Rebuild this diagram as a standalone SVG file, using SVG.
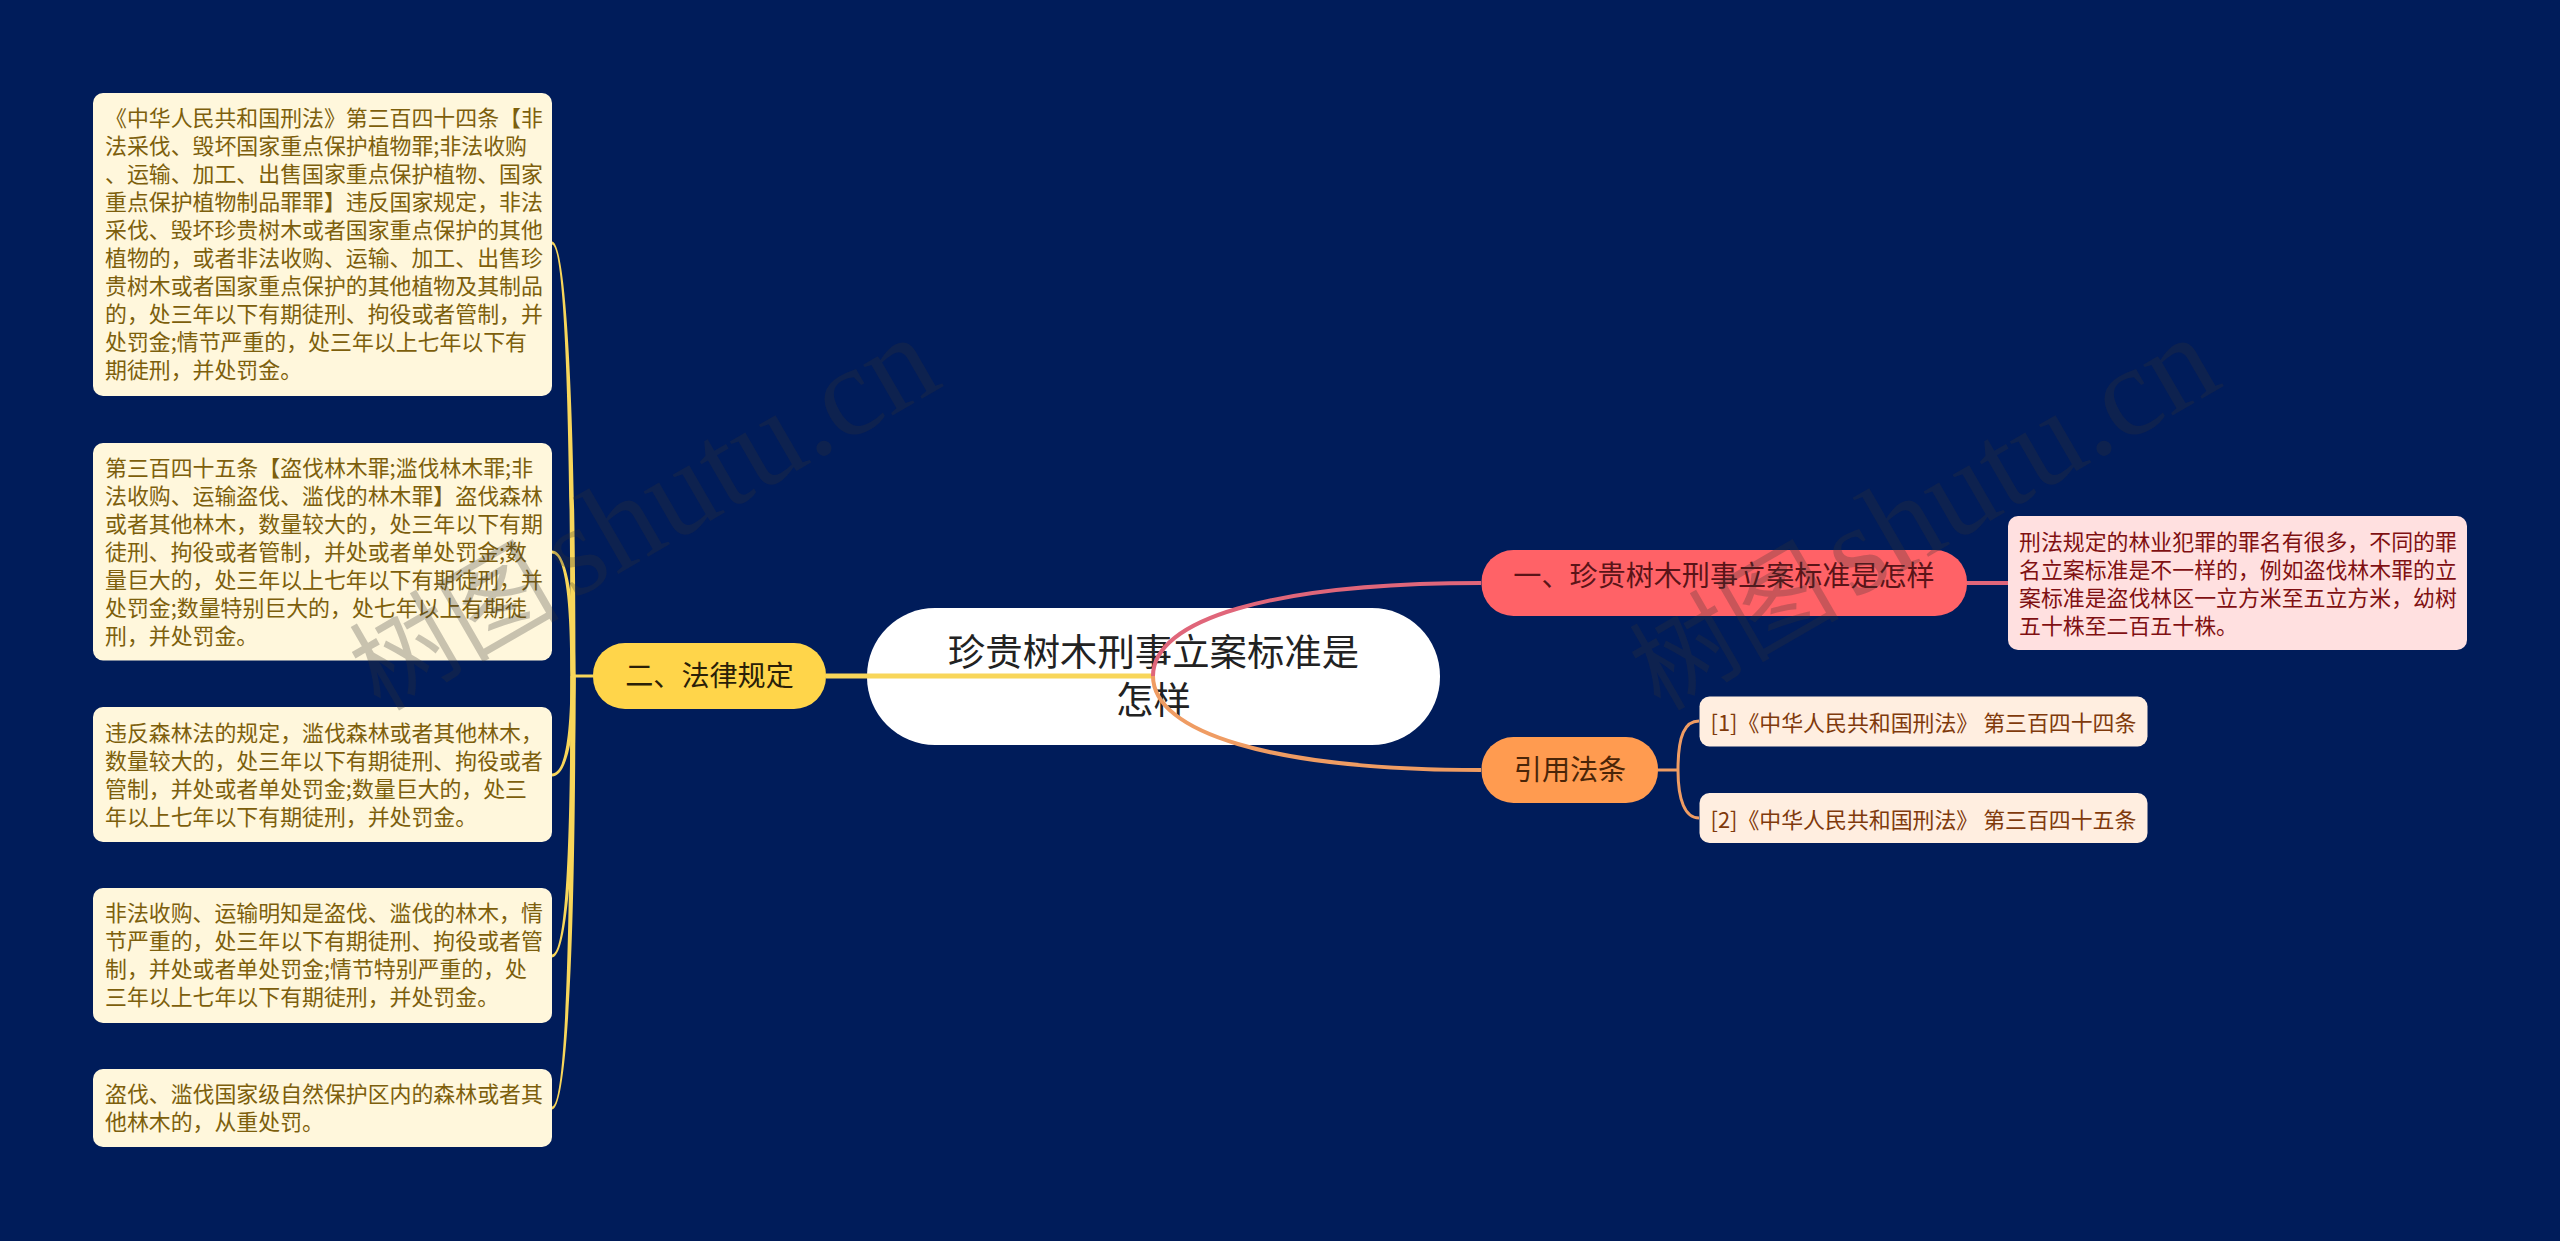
<svg xmlns="http://www.w3.org/2000/svg" width="2560" height="1241" viewBox="0 0 2560 1241">
<style>
text{font-family:"Noto Sans CJK SC","Noto Sans",sans-serif}
.y{fill:#FFF7DC}.yt{fill:#7D5F0C;font-size:21.9px}
.p{fill:#FFE0E0}.pt{fill:#7F1012;font-size:21.9px}
.o{fill:#FFEEE0}.ot{fill:#7F3A0C;font-size:21.9px}
.b{font-size:28.1px;text-anchor:middle}
.r{font-size:37.4px;fill:#222;text-anchor:middle}
.c{fill:none;stroke-linecap:butt}
.f{fill:#F8D65A}
.cr{stroke:#E0667A;stroke-width:4}
.co{stroke:#EF9C63;stroke-width:4}
.wm{font-family:"Liberation Serif","Noto Sans CJK SC",serif;fill:#323232;fill-opacity:.27}
</style>
<rect width="2560" height="1241" fill="#001C5A"/>
<g id="root"><rect x="867" y="608" width="573" height="137" rx="68" fill="#fff"/>
<text class="r" x="1153.500" y="666">珍贵树木刑事立案标准是</text>
<text class="r" x="1153.500" y="714">怎样</text></g>
<g id="branch-red"><rect x="1481.500" y="550" width="485.500" height="66" rx="32" fill="#FF6267"/>
<text class="b" x="1724" y="586" fill="#5A1418">一、珍贵树木刑事立案标准是怎样</text></g>
<g id="branch-orange"><rect x="1481.500" y="737" width="176.500" height="66" rx="32" fill="#FF9B50"/>
<text class="b" x="1570" y="780" fill="#4A2508">引用法条</text></g>
<g id="branch-yellow"><rect x="593" y="643" width="233" height="66" rx="32" fill="#FFD54A"/>
<text class="b" x="709.500" y="686" fill="#2A2008">二、法律规定</text></g>
<g id="detail-red"><rect class="p" x="2008" y="516" width="459" height="134" rx="10"/>
<text class="pt" x="2019" y="550">刑法规定的林业犯罪的罪名有很多，不同的罪</text>
<text class="pt" x="2019" y="578">名立案标准是不一样的，例如盗伐林木罪的立</text>
<text class="pt" x="2019" y="606">案标准是盗伐林区一立方米至五立方米，幼树</text>
<text class="pt" x="2019" y="634">五十株至二百五十株。</text></g>
<g id="ref-1"><rect class="o" x="1699.500" y="696.500" width="448" height="50" rx="10"/>
<text class="ot" x="1710.500" y="731">[1]《中华人民共和国刑法》 第三百四十四条</text></g>
<g id="ref-2"><rect class="o" x="1699.500" y="793" width="448" height="50" rx="10"/>
<text class="ot" x="1710.500" y="827.500">[2]《中华人民共和国刑法》 第三百四十五条</text></g>
<g id="law-1"><rect class="y" x="93" y="93" width="459" height="303" rx="10"/>
<text class="yt" x="105" y="126">《中华人民共和国刑法》第三百四十四条【非</text>
<text class="yt" x="105" y="154">法采伐、毁坏国家重点保护植物罪;非法收购</text>
<text class="yt" x="105" y="182">、运输、加工、出售国家重点保护植物、国家</text>
<text class="yt" x="105" y="210">重点保护植物制品罪罪】违反国家规定，非法</text>
<text class="yt" x="105" y="238">采伐、毁坏珍贵树木或者国家重点保护的其他</text>
<text class="yt" x="105" y="266">植物的，或者非法收购、运输、加工、出售珍</text>
<text class="yt" x="105" y="294">贵树木或者国家重点保护的其他植物及其制品</text>
<text class="yt" x="105" y="322">的，处三年以下有期徒刑、拘役或者管制，并</text>
<text class="yt" x="105" y="350">处罚金;情节严重的，处三年以上七年以下有</text>
<text class="yt" x="105" y="378">期徒刑，并处罚金。</text></g>
<g id="law-2"><rect class="y" x="93" y="443" width="459" height="217.500" rx="10"/>
<text class="yt" x="105" y="476">第三百四十五条【盗伐林木罪;滥伐林木罪;非</text>
<text class="yt" x="105" y="504">法收购、运输盗伐、滥伐的林木罪】盗伐森林</text>
<text class="yt" x="105" y="532">或者其他林木，数量较大的，处三年以下有期</text>
<text class="yt" x="105" y="560">徒刑、拘役或者管制，并处或者单处罚金;数</text>
<text class="yt" x="105" y="588">量巨大的，处三年以上七年以下有期徒刑，并</text>
<text class="yt" x="105" y="616">处罚金;数量特别巨大的，处七年以上有期徒</text>
<text class="yt" x="105" y="644">刑，并处罚金。</text></g>
<g id="law-3"><rect class="y" x="93" y="707" width="459" height="135" rx="10"/>
<text class="yt" x="105" y="741">违反森林法的规定，滥伐森林或者其他林木，</text>
<text class="yt" x="105" y="769">数量较大的，处三年以下有期徒刑、拘役或者</text>
<text class="yt" x="105" y="797">管制，并处或者单处罚金;数量巨大的，处三</text>
<text class="yt" x="105" y="825">年以上七年以下有期徒刑，并处罚金。</text></g>
<g id="law-4"><rect class="y" x="93" y="888" width="459" height="135" rx="10"/>
<text class="yt" x="105" y="921">非法收购、运输明知是盗伐、滥伐的林木，情</text>
<text class="yt" x="105" y="949">节严重的，处三年以下有期徒刑、拘役或者管</text>
<text class="yt" x="105" y="977">制，并处或者单处罚金;情节特别严重的，处</text>
<text class="yt" x="105" y="1005">三年以上七年以下有期徒刑，并处罚金。</text></g>
<g id="law-5"><rect class="y" x="93" y="1069" width="459" height="78" rx="10"/>
<text class="yt" x="105" y="1102">盗伐、滥伐国家级自然保护区内的森林或者其</text>
<text class="yt" x="105" y="1130">他林木的，从重处罚。</text></g>
<g id="connectors">
<path class="f" d="M1153 673.500H826V678.500H1153Z"/>
<path class="f" d="M593 674.500H573V677.500H593Z"/>
<path class="f" d="M575.500 676C575.500 400 566 241.500 552 241.500V244.500C564 244.500 570.500 400 570.500 676Z"/>
<path class="f" d="M575.500 676C575.500 600 567 550.500 552 550.500V553.500C565 553.500 570.500 600 570.500 676Z"/>
<path class="f" d="M570.500 676C570.500 735 565 773.500 552 773.500V776.500C567 776.500 575.500 735 575.500 676Z"/>
<path class="f" d="M570.500 676C570.500 860 565 954.500 552 954.500V957.500C567 957.500 575.500 860 575.500 676Z"/>
<path class="f" d="M570.500 676C570.500 950 565 1106.500 552 1106.500V1109.500C567 1109.500 575.500 950 575.500 676Z"/>
<path class="c cr" d="M1153 676C1153 620 1270 583 1481 583"/>
<path class="c co" d="M1153 676C1153 732 1270 770 1481 770"/>
<path class="c cr" d="M1967 583H2008"/>
<path class="c co" style="stroke-width:3" d="M1658 770H1678"/>
<path class="c co" style="stroke-width:3" d="M1678 770C1678 735 1685 721 1699 721"/>
<path class="c co" style="stroke-width:3" d="M1678 770C1678 800 1685 818 1699 818"/>
</g>
<text class="wm" transform="translate(380 712) rotate(-30)"><tspan font-size="105">树图</tspan><tspan dx="-19" dy="-0.500" font-size="128"> shutu.cn</tspan></text>
<text class="wm" transform="translate(1660 712) rotate(-30)"><tspan font-size="105">树图</tspan><tspan dx="-19" dy="-0.500" font-size="128"> shutu.cn</tspan></text>
</svg>
